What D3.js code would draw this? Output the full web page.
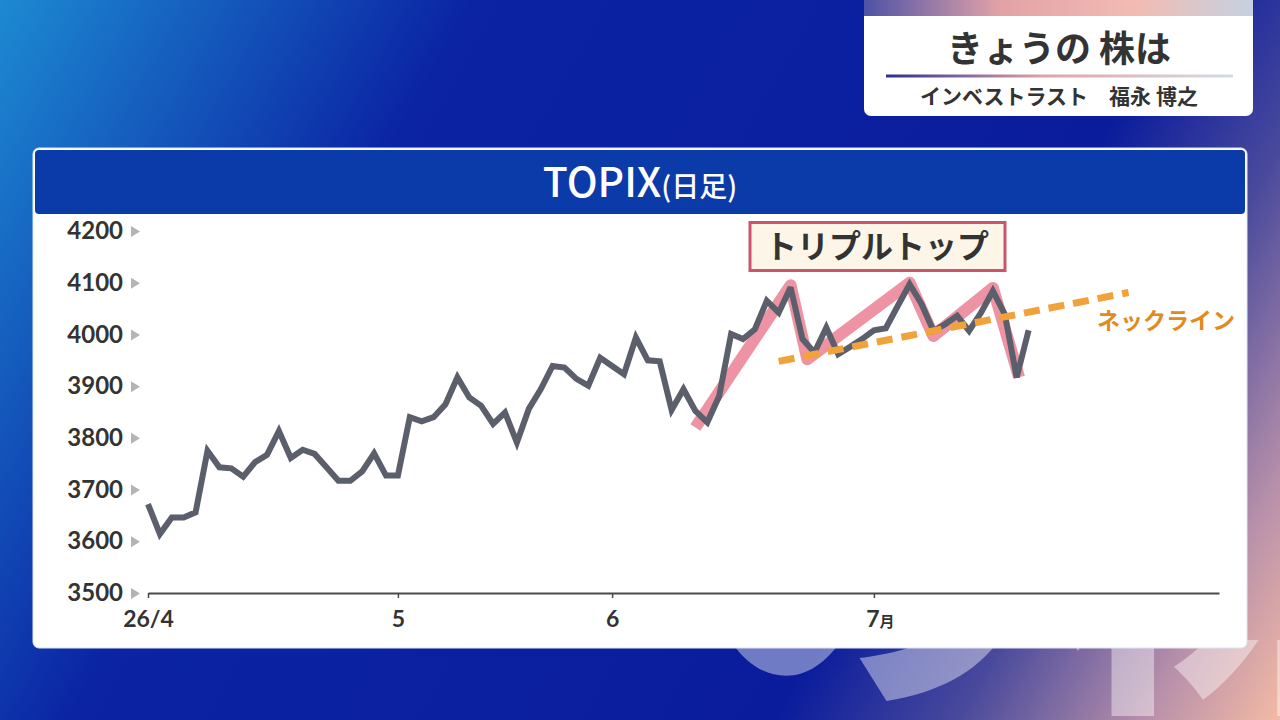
<!DOCTYPE html>
<html>
<head>
<meta charset="utf-8">
<script src="https://cdn.jsdelivr.net/npm/d3@7"></script>
<style>
  body { margin: 0; overflow: hidden; background: #0a1c9c; }
  svg { display: block; }
</style>
</head>
<body>
<div id="chart"></div>
<script>
// TOPIX daily closes, index 0 = first session of April
var closes = [
  3672, 3614, 3646, 3646, 3656, 3775, 3743, 3741, 3725, 3753,
  3767, 3813, 3761, 3777, 3769, 3743, 3717, 3717, 3735, 3770,
  3727, 3727, 3840, 3832, 3840, 3865, 3917, 3878, 3862, 3827,
  3849, 3791, 3856, 3894, 3939, 3936, 3914, 3901, 3955, 3939,
  3923, 3994, 3950, 3948, 3854, 3894, 3852, 3830, 3881, 4001,
  3991, 4010, 4065, 4042, 4091, 3991, 3965, 4013, 3962, 3976,
  3991, 4008, 4012, 4055, 4097, 4059, 4007, 4020, 4036, 4007,
  4042, 4084, 4039, 3917, 4008
];
var monthTicks = [0, 21, 39, 61];
var monthLabels = ["26/4", "5", "6", "7"];
var yTicks = [3500, 3600, 3700, 3800, 3900, 4000, 4100, 4200];

// triple top outline (pink) and neckline (orange)
var patternIdx = [46, 54, 55.4, 64, 66, 71, 73.2];
var patternVal = [3820, 4095, 3952, 4100, 3997, 4090, 3917];
var necklineIdx = [53, 82.4];
var necklineVal = [3948, 4081];

var W = 1280, H = 720;
var jp = "'Noto Sans CJK JP', 'Noto Sans', sans-serif";

var svg = d3
  .select("#chart")
  .append("svg")
  .attr("width", W)
  .attr("height", H);

var defs = svg.append("defs");

// background gradient
var bg = defs
  .append("linearGradient")
  .attr("id", "bg")
  .attr("gradientUnits", "userSpaceOnUse")
  .attr("x1", 0).attr("y1", 0)
  .attr("x2", W).attr("y2", H);
[
  [0, "#1d8ad2"],
  [0.28, "#0b24a4"],
  [0.7, "#0a1c9c"],
  [0.81, "#4a4a9c"],
  [0.92, "#b890aa"],
  [1, "#f4baa4"]
].forEach(function (s) {
  bg.append("stop").attr("offset", s[0]).attr("stop-color", s[1]);
});

var strip = defs
  .append("linearGradient")
  .attr("id", "strip")
  .attr("x1", 0).attr("x2", 1).attr("y1", 0).attr("y2", 0);
[[0, "#4e52a6"], [0.35, "#e2a2a6"], [0.7, "#f2bcb4"], [1, "#c4d2e0"]].forEach(function (s) {
  strip.append("stop").attr("offset", s[0]).attr("stop-color", s[1]);
});

var rule = defs
  .append("linearGradient")
  .attr("id", "rule")
  .attr("x1", 0).attr("x2", 1).attr("y1", 0).attr("y2", 0);
[[0, "#2a2e92"], [0.45, "#e0a2a6"], [1, "#d4dce4"]].forEach(function (s) {
  rule.append("stop").attr("offset", s[0]).attr("stop-color", s[1]);
});

// the faint lettering only shows under the panel
defs
  .append("clipPath")
  .attr("id", "lowband")
  .append("rect")
  .attr("x", 0).attr("y", 640)
  .attr("width", W).attr("height", 80);

svg.append("rect").attr("width", W).attr("height", H).attr("fill", "url(#bg)");

svg
  .append("text")
  .attr("x", 690)
  .attr("y", 684)
  .attr("clip-path", "url(#lowband)")
  .attr("font-family", jp)
  .attr("font-weight", 700)
  .attr("font-size", 360)
  .attr("fill", "#ffffff")
  .attr("fill-opacity", 0.42)
  .text("の株");

// ----------------- header box -----------------
svg
  .append("rect")
  .attr("x", 864).attr("y", -10)
  .attr("width", 389).attr("height", 126)
  .attr("rx", 7)
  .attr("fill", "#ffffff");
svg
  .append("rect")
  .attr("x", 864).attr("y", 0)
  .attr("width", 389).attr("height", 16)
  .attr("fill", "url(#strip)");
svg
  .append("text")
  .attr("x", 1059).attr("y", 62)
  .attr("text-anchor", "middle")
  .attr("font-family", jp)
  .attr("font-weight", 700)
  .attr("font-size", 36)
  .attr("fill", "#333333")
  .text("きょうの 株は");
svg
  .append("rect")
  .attr("x", 886).attr("y", 74.5)
  .attr("width", 347).attr("height", 3)
  .attr("fill", "url(#rule)");
svg
  .append("text")
  .attr("x", 1059).attr("y", 104)
  .attr("text-anchor", "middle")
  .attr("font-family", jp)
  .attr("font-weight", 700)
  .attr("font-size", 21)
  .attr("fill", "#333333")
  .text("インベストラスト\u3000福永 博之");

// ----------------- chart panel -----------------
svg
  .append("rect")
  .attr("x", 33).attr("y", 148)
  .attr("width", 1214).attr("height", 500)
  .attr("rx", 6)
  .attr("fill", "#ffffff")
  .attr("stroke", "#dfe6f2")
  .attr("stroke-width", 1);
svg
  .append("rect")
  .attr("x", 35).attr("y", 150)
  .attr("width", 1210).attr("height", 64)
  .attr("rx", 4)
  .attr("fill", "#0b3ba8");

var title = svg
  .append("text")
  .attr("x", 640).attr("y", 197)
  .attr("text-anchor", "middle")
  .attr("font-family", jp)
  .attr("font-weight", 500)
  .attr("fill", "#ffffff");
title.append("tspan").attr("font-size", 41).text("TOPIX");
title.append("tspan").attr("font-size", 28).text("(日足)");

// scales
var x = d3.scaleLinear().domain([0, 90]).range([148, 1219]);
var y = d3.scaleLinear().domain([3500, 4200]).range([593, 231]);

// Y axis: labels plus small grey markers
var yAxis = svg
  .append("g")
  .attr("transform", "translate(" + x(0) + ",0)")
  .call(
    d3
      .axisLeft(y)
      .tickValues(yTicks)
      .tickSize(0)
      .tickPadding(25)
      .tickFormat(d3.format("d"))
  );
yAxis.select(".domain").remove();
yAxis
  .selectAll("text")
  .attr("font-family", "Lato, sans-serif")
  .attr("font-weight", 700)
  .attr("font-size", 24)
  .attr("fill", "#333333");
yAxis
  .selectAll(".tick")
  .append("path")
  .attr("d", "M-17,-5.5L-8,0L-17,5.5Z")
  .attr("fill", "#b4b4b4");

// X axis
var xAxis = svg
  .append("g")
  .attr("transform", "translate(0," + y(3500) + ")")
  .call(
    d3
      .axisBottom(x)
      .tickValues(monthTicks)
      .tickSize(5)
      .tickSizeOuter(0)
      .tickPadding(13)
      .tickFormat(function (d, i) {
        return monthLabels[i];
      })
  );
xAxis.select(".domain").attr("stroke", "#4a4a4a").attr("stroke-width", 2);
xAxis.selectAll(".tick line").attr("stroke", "#4a4a4a").attr("stroke-width", 1.5);
xAxis
  .selectAll("text")
  .attr("font-family", "Lato, sans-serif")
  .attr("font-weight", 700)
  .attr("font-size", 23)
  .attr("fill", "#333333");
// the July label carries a small 月
xAxis
  .selectAll(".tick text")
  .filter(function (d) {
    return d === monthTicks[3];
  })
  .attr("dx", 6)
  .append("tspan")
  .attr("font-family", jp)
  .attr("font-size", 15)
  .text("月");

var line = d3
  .line()
  .x(function (d) { return x(d[0]); })
  .y(function (d) { return y(d[1]); });

// pink triple top outline
svg
  .append("path")
  .datum(patternIdx.map(function (d, i) { return [d, patternVal[i]]; }))
  .attr("d", line)
  .attr("fill", "none")
  .attr("stroke", "#ec8a9c")
  .attr("stroke-opacity", 0.92)
  .attr("stroke-width", 12)
  .attr("stroke-linejoin", "round");

// price line
svg
  .append("path")
  .datum(closes.map(function (d, i) { return [i, d]; }))
  .attr("d", line)
  .attr("fill", "none")
  .attr("stroke", "#5b5f6b")
  .attr("stroke-width", 6)
  .attr("stroke-linejoin", "miter")
  .attr("stroke-miterlimit", 3);

// neckline
svg
  .append("path")
  .datum(necklineIdx.map(function (d, i) { return [d, necklineVal[i]]; }))
  .attr("d", line)
  .attr("fill", "none")
  .attr("stroke", "#f2a23a")
  .attr("stroke-width", 7)
  .attr("stroke-dasharray", "16 9");

svg
  .append("text")
  .attr("x", 1166).attr("y", 329)
  .attr("text-anchor", "middle")
  .attr("font-family", jp)
  .attr("font-weight", 700)
  .attr("font-size", 23)
  .attr("fill", "#e38a1e")
  .text("ネックライン");

// label box
svg
  .append("rect")
  .attr("x", 750).attr("y", 222.5)
  .attr("width", 255).attr("height", 48)
  .attr("fill", "#fdf5e8")
  .attr("stroke", "#c9566c")
  .attr("stroke-width", 3);
svg
  .append("text")
  .attr("x", 877).attr("y", 258)
  .attr("text-anchor", "middle")
  .attr("font-family", jp)
  .attr("font-weight", 700)
  .attr("font-size", 32)
  .attr("fill", "#333333")
  .text("トリプルトップ");
</script>
</body>
</html>
